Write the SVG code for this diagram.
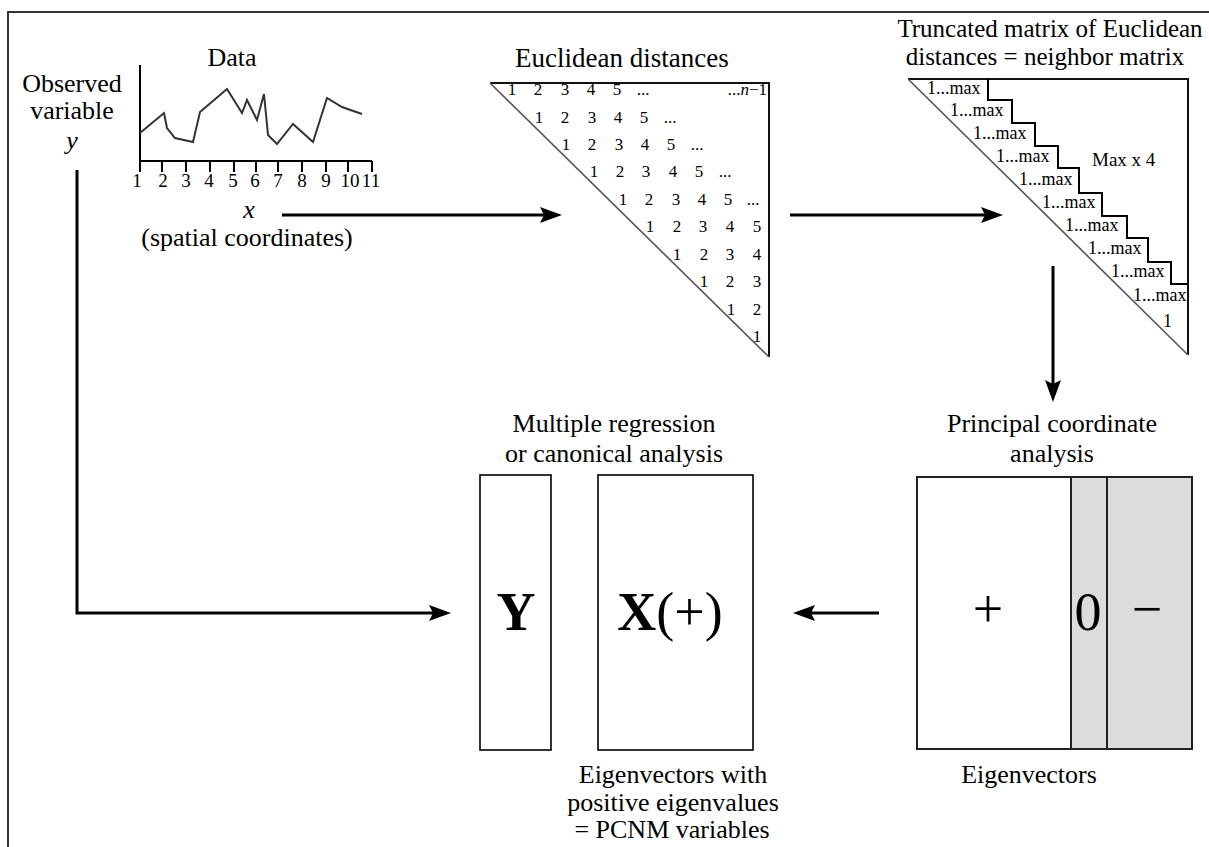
<svg xmlns="http://www.w3.org/2000/svg" width="1209" height="847" viewBox="0 0 1209 847">
<defs>
<marker id="ah" viewBox="0 0 22 16" refX="10" refY="8" markerWidth="22" markerHeight="16" markerUnits="userSpaceOnUse" orient="auto">
<path d="M0,0 L22,8 L0,16 L4,8 z" fill="#000"/>
</marker>
<style>
text{font-family:"Liberation Serif","Times New Roman",serif;fill:#000}
.lbl{font-size:26px;text-anchor:middle}
.ttl{font-size:25px;text-anchor:middle}
.num{font-size:17px;text-anchor:middle}
.tick{font-size:19px;text-anchor:middle}
.mx{font-size:18px}
.big{font-size:54px;text-anchor:middle}
.box{fill:#fff;stroke:#000;stroke-width:1.6}
.con{fill:none;stroke:#000;stroke-width:3;marker-end:url(#ah)}
.edge{fill:none;stroke:#111;stroke-width:2}
.hyp{fill:none;stroke:#555;stroke-width:1.6}
</style>
</defs>
<rect width="1209" height="847" fill="#fff"/>
<path d="M8,847 V12 H1209" fill="none" stroke="#333" stroke-width="2"/>

<g id="data">
<text class="lbl" x="232" y="66">Data</text>
<text class="lbl" x="72" y="92">Observed</text>
<text class="lbl" x="72" y="119">variable</text>
<text class="lbl" x="72" y="149" font-style="italic">y</text>
<path d="M140,65 V172 M140,161 H372" fill="none" stroke="#000" stroke-width="2"/>
<path d="M162,161V172M186,161V172M210,161V172M234,161V172M256,161V172M278,161V172M302,161V172M326,161V172M348,161V172M372,161V172" stroke="#000" stroke-width="2"/>
<polyline points="140,133 164,113 167,128 175,138 193,142 200,112 227,89 242,113 247,100 257,120 264,94 268,135 277,144 293,124 313,142 327,98 342,107 362,114" fill="none" stroke="#333" stroke-width="2"/>
<text class="tick" x="137" y="187">1</text>
<text class="tick" x="163" y="187">2</text>
<text class="tick" x="186" y="187">3</text>
<text class="tick" x="209" y="187">4</text>
<text class="tick" x="233" y="187">5</text>
<text class="tick" x="255" y="187">6</text>
<text class="tick" x="278" y="187">7</text>
<text class="tick" x="302" y="187">8</text>
<text class="tick" x="326" y="187">9</text>
<text class="tick" x="350" y="187">10</text>
<text class="tick" x="371" y="187">11</text>
<text class="lbl" x="249" y="218" font-style="italic">x</text>
<text class="lbl" x="247" y="246">(spatial coordinates)</text>
</g>

<g id="euclid">
<text x="515" y="67" font-size="27">Euclidean distances</text>
<path class="edge" d="M490,83 H769 V357"/>
<path class="hyp" d="M490,83 L769,357"/>
<g class="num">
<text x="512" y="95">1</text><text x="538" y="95">2</text><text x="565" y="95">3</text><text x="591" y="95">4</text><text x="617" y="95">5</text><text x="643" y="95">...</text>
<text x="539" y="123">1</text><text x="565" y="123">2</text><text x="592" y="123">3</text><text x="618" y="123">4</text><text x="644" y="123">5</text><text x="670" y="123">...</text>
<text x="566" y="150">1</text><text x="592" y="150">2</text><text x="619" y="150">3</text><text x="645" y="150">4</text><text x="671" y="150">5</text><text x="697" y="150">...</text>
<text x="594" y="177">1</text><text x="620" y="177">2</text><text x="646" y="177">3</text><text x="673" y="177">4</text><text x="699" y="177">5</text><text x="725" y="177">...</text>
<text x="623" y="205">1</text><text x="649" y="205">2</text><text x="676" y="205">3</text><text x="702" y="205">4</text><text x="728" y="205">5</text><text x="753" y="205">...</text>
<text x="650" y="232">1</text><text x="677" y="232">2</text><text x="703" y="232">3</text><text x="730" y="232">4</text><text x="757" y="232">5</text>
<text x="677" y="260">1</text><text x="704" y="260">2</text><text x="730" y="260">3</text><text x="757" y="260">4</text>
<text x="704" y="287">1</text><text x="730" y="287">2</text><text x="757" y="287">3</text>
<text x="731" y="315">1</text><text x="757" y="315">2</text>
<text x="757" y="342">1</text>
<text x="767" y="95" text-anchor="end">...<tspan font-style="italic">n</tspan>−1</text>
</g>
</g>

<g id="truncated">
<text class="ttl" x="1050" y="37">Truncated matrix of Euclidean</text>
<text class="ttl" x="1045" y="65">distances = neighbor matrix</text>
<path class="edge" d="M908,79 H1188 V355"/>
<path class="hyp" d="M908,79 L1188,355"/>
<path d="M988,79 V100 H1012 V123 H1035 V146 H1058 V168 H1079 V193 H1102 V216 H1127 V238 H1148 V262 H1171 V284 H1188" fill="none" stroke="#000" stroke-width="2"/>
<g class="mx">
<text x="927" y="94">1...max</text>
<text x="950" y="116">1...max</text>
<text x="973" y="139">1...max</text>
<text x="996" y="162">1...max</text>
<text x="1019" y="185">1...max</text>
<text x="1042" y="208">1...max</text>
<text x="1065" y="231">1...max</text>
<text x="1088" y="254">1...max</text>
<text x="1111" y="277">1...max</text>
<text x="1133" y="301">1...max</text>
<text x="1163" y="327">1</text>
</g>
<text x="1092" y="166" font-size="19">Max x 4</text>
</g>

<g id="pcoa">
<text class="lbl" x="1052" y="432">Principal coordinate</text>
<text class="lbl" x="1052" y="462">analysis</text>
<rect x="1071" y="477" width="121" height="272" fill="#dcdcdc"/>
<rect x="917" y="477" width="275" height="272" fill="none" stroke="#222" stroke-width="2"/>
<path d="M1071,477 V749 M1107,477 V749" stroke="#222" stroke-width="2"/>
<text class="big" x="988" y="627">+</text>
<text class="big" x="1088" y="630">0</text>
<text class="big" x="1147" y="627">−</text>
<text class="lbl" x="1029" y="783">Eigenvectors</text>
</g>

<g id="regression">
<text class="lbl" x="614" y="432">Multiple regression</text>
<text class="lbl" x="614" y="462">or canonical analysis</text>
</g>

<g id="Ybox">
<rect class="box" x="480" y="475" width="71" height="275"/>
<text class="big" x="516" y="630" font-weight="bold">Y</text>
</g>

<g id="Xbox">
<rect class="box" x="598" y="475" width="155" height="275"/>
<text class="big" x="670" y="630"><tspan font-weight="bold">X</tspan>(+)</text>
<text class="lbl" x="673" y="783">Eigenvectors with</text>
<text class="lbl" x="673" y="811">positive eigenvalues</text>
<text class="lbl" x="672" y="838">= PCNM variables</text>
</g>

<g id="connectors">
<path class="con" d="M282,215 H550"/>
<path class="con" d="M790,215 H991"/>
<path class="con" d="M1053,266 V390"/>
<path class="con" d="M879,613 H805"/>
<path class="con" d="M77,170 V613 H439"/>
</g>
</svg>
